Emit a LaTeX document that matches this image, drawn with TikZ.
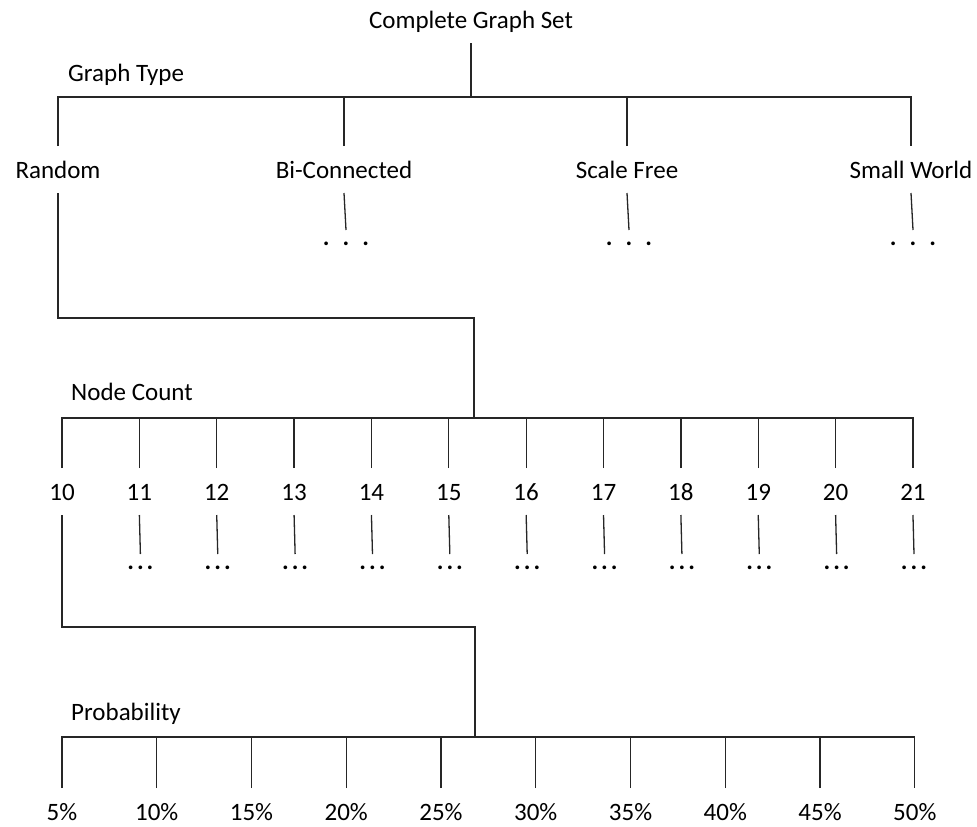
\documentclass[tikz,border=0pt]{standalone}
\usepackage{fontspec}
\setmainfont{Carlito}

\tikzset{
  lbl/.style={font=\fontsize{25}{30}\selectfont, inner sep=0pt, text height=17pt, text depth=0pt, outer ysep=15pt, anchor=base},
  etc/.style={font=\fontsize{25}{30}\selectfont\bfseries, inner sep=0pt, text height=4pt, text depth=0pt, outer ysep=11pt, anchor=base},
  head/.style={font=\fontsize{25}{30}\selectfont, inner sep=0pt, anchor=base west},
  wire/.style={line width=1.3pt, draw=black!85}
}

\begin{document}
\begin{tikzpicture}[x=1pt, y=-1pt]
  \useasboundingbox (0,0) rectangle (977,827);

  % graph type level
  \node[lbl] (root) at (471,28) {Complete Graph Set};
  \node[head] (gtype) at (68,81) {Graph Type};
  \node[lbl] (rnd) at (58,178) {Random};
  \node[lbl] (bic) at (344,178) {Bi-Connected};
  \node[lbl] (sf) at (627,178) {Scale Free};
  \node[lbl] (sw) at (911,178) {Small World};
  \coordinate (gbar) at (471,97);

  \draw[wire] (root.south) -- (gbar);
  \draw[wire] (rnd.north) |- (sw |- gbar) -- (sw.north);
  \draw[wire] (bic.north) -- (bic |- gbar);
  \draw[wire] (sf.north) -- (sf |- gbar);

  \node[etc] (bicd) at (346,245) {.\hspace{13pt}.\hspace{13pt}.};
  \node[etc] (sfd) at (629,245) {.\hspace{13pt}.\hspace{13pt}.};
  \node[etc] (swd) at (913,245) {.\hspace{13pt}.\hspace{13pt}.};
  \draw[wire] (bic.south) -- (bicd.north);
  \draw[wire] (sf.south) -- (sfd.north);
  \draw[wire] (sw.south) -- (swd.north);

  % node count level
  \coordinate (k1) at (474,318);
  \coordinate (nbar) at (474,418);
  \node[head] (ncount) at (71,400) {Node Count};
  \foreach \n [count=\i from 0] in {10,...,21}
    \node[lbl] (n\n) at ({62+77.36*\i},500) {\n};
  \draw[wire] (rnd.south) |- (k1) -- (nbar);
  \draw[wire] (n10.north) |- (n21 |- nbar) -- (n21.north);
  \foreach \n in {11,...,20}
    \draw[wire] (n\n.north) -- (n\n |- nbar);
  \foreach \n [count=\i from 0] in {11,...,21} {
    \node[etc] (d\n) at ({140.4+77.36*\i},569) {.\hspace{3pt}.\hspace{3pt}.};
    \draw[wire] (n\n.south) -- (d\n.north);
  }

  % probability level
  \coordinate (k2) at (475,627);
  \coordinate (pbar) at (475,737);
  \node[head] (prob) at (71,720) {Probability};
  \foreach \p [count=\i from 0] in {5,10,...,50}
    \node[lbl] (p\p) at ({62+94.75*\i},820) {\p\%};
  \draw[wire] (n10.south) |- (k2) -- (pbar);
  \draw[wire] (p5.north) |- (p50 |- pbar) -- (p50.north);
  \foreach \p in {10,15,...,45}
    \draw[wire] (p\p.north) -- (p\p |- pbar);
\end{tikzpicture}
\end{document}
